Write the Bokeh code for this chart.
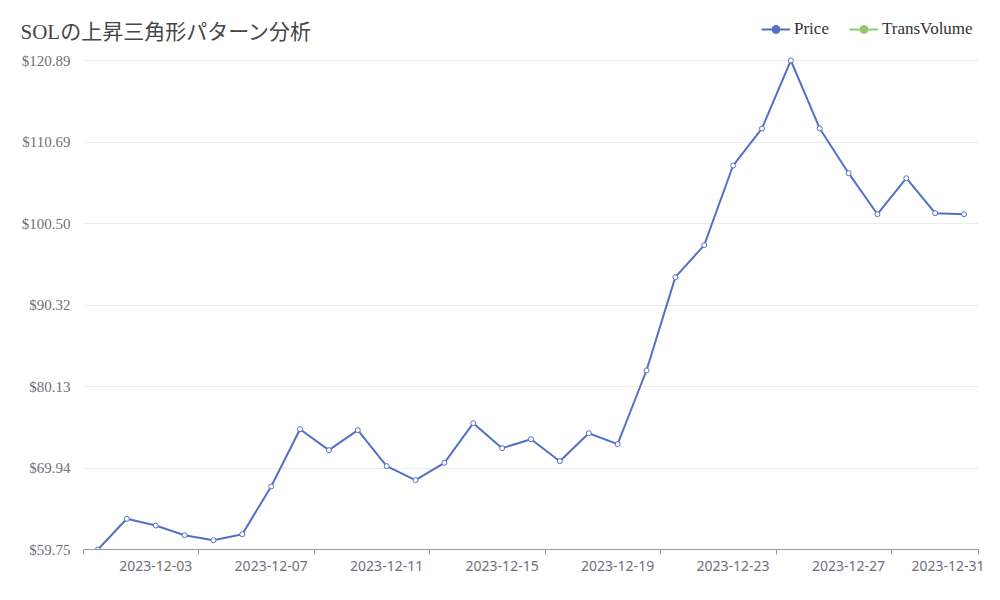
from bokeh.plotting import figure
from bokeh.models import (Range1d, FixedTicker, CustomJSTickFormatter,
                          Legend, LegendItem, ColumnDataSource)
from bokeh.embed import file_html
from bokeh.resources import INLINE

dates = ["2023-12-%02d" % d for d in range(1, 32)]
price = [59.75, 63.59, 62.75, 61.54, 60.91, 61.66, 67.63, 74.79, 72.17, 74.67,
         70.17, 68.42, 70.59, 75.54, 72.42, 73.54, 70.79, 74.29, 72.92, 82.13,
         93.80, 97.80, 107.76, 112.39, 120.89, 112.39, 106.80, 101.67, 106.17, 101.80,
         101.67]
trans_volume = []
ytick_labels = ["$59.75", "$69.94", "$80.13", "$90.32", "$100.50", "$110.69", "$120.89"]
title_text = "SOLの上昇三角形パターン分析"

SERIF = "'Liberation Serif', 'Noto Sans CJK JP'"
BLUE = "#5470c6"
GREEN = "#91cc75"

# layout (pixels)
FRAME_TOP, PLOT_TOP, PLOT_H = 12, 60, 489

idx = list(range(len(dates)))
src = ColumnDataSource(dict(x=idx, y=price))

ymin, ymax = min(price), max(price)
n = len(ytick_labels) - 1
yticks = [ymin + (ymax - ymin) * i / n for i in range(n)] + [ymax]
# extend the range upward so that the legend row fits inside the frame
y_top = ymax + (ymax - ymin) * (PLOT_TOP - FRAME_TOP) / PLOT_H

p = figure(width=984, height=584, output_backend="svg", toolbar_location=None,
           x_range=Range1d(-0.5, len(dates) - 0.5), y_range=Range1d(ymin, y_top),
           min_border_left=83, min_border_right=6, min_border_top=FRAME_TOP,
           min_border_bottom=35)
p.outline_line_color = None

p.title.text = title_text
p.title.text_font = SERIF
p.title.text_font_size = "21px"
p.title.text_font_style = "normal"
p.title.text_color = "#464646"
p.title.offset = -63
p.title.standoff = -62

# y axis
p.yaxis.ticker = FixedTicker(ticks=yticks, minor_ticks=[])
p.yaxis.formatter = CustomJSTickFormatter(
    args=dict(labels=ytick_labels, lo=ymin, hi=ymax, n=n),
    code="return labels[Math.round((tick - lo) / (hi - lo) * n)];")
p.yaxis.axis_line_color = None
p.yaxis.major_tick_line_color = None
p.yaxis.minor_tick_line_color = None
p.yaxis.major_label_text_font = SERIF
p.yaxis.major_label_text_font_size = "15px"
p.yaxis.major_label_text_color = "#6e7079"
p.yaxis.major_label_standoff = 7
p.ygrid.ticker = FixedTicker(ticks=yticks)
p.ygrid.grid_line_color = "#ececec"
p.ygrid.grid_line_width = 1

# x axis (category style: labels on points, ticks on band boundaries)
label_idx = [i for i in idx if i % 4 == 2]
boundaries = [i - 0.5 for i in idx if i % 4 == 0] + [len(dates) - 0.5]
p.xaxis.ticker = FixedTicker(ticks=label_idx, minor_ticks=boundaries)
p.xaxis.formatter = CustomJSTickFormatter(args=dict(labels=dates),
                                          code="return labels[Math.round(tick)];")
p.xaxis.axis_line_color = "#9a9a9a"
p.xaxis.axis_line_width = 1
p.xaxis.major_tick_line_color = None
p.xaxis.minor_tick_line_color = "#9a9a9a"
p.xaxis.minor_tick_in = 0
p.xaxis.minor_tick_out = 5
p.xaxis.major_label_text_font = "Noto Sans"
p.xaxis.major_label_text_font_size = "14px"
p.xaxis.major_label_text_color = "#6e7079"
p.xaxis.major_label_standoff = 5
p.xgrid.grid_line_color = None

# series
l1 = p.line("x", "y", source=src, line_color=BLUE, line_width=2)
p.scatter("x", "y", source=src, size=5, marker="circle", fill_color="white",
          line_color=BLUE, line_width=1)
tsrc = ColumnDataSource(dict(x=list(range(len(trans_volume))), y=trans_volume))
p.line("x", "y", source=tsrc, line_color=GREEN, line_width=2)

# hidden renderers used only for the legend icons
ic1 = p.scatter("x", "y", source=src, size=11, marker="circle",
                fill_color=BLUE, line_color=BLUE, visible=False)
il2 = p.line("x", "y", source=src, line_color=GREEN, line_width=2, visible=False)
ic2 = p.scatter("x", "y", source=src, size=11, marker="circle",
                fill_color=GREEN, line_color=GREEN, visible=False)

legend = Legend(items=[LegendItem(label="Price", renderers=[l1, ic1]),
                       LegendItem(label="TransVolume", renderers=[il2, ic2])],
                orientation="horizontal", location=(678, 510),
                padding=0, margin=0, spacing=20, glyph_width=29, glyph_height=20,
                label_height=20, label_standoff=4,
                label_text_font=SERIF, label_text_font_size="17px",
                label_text_color="#333333",
                background_fill_alpha=0, border_line_color=None)
p.add_layout(legend, "center")

open("out.html", "w").write(file_html(p, INLINE))
